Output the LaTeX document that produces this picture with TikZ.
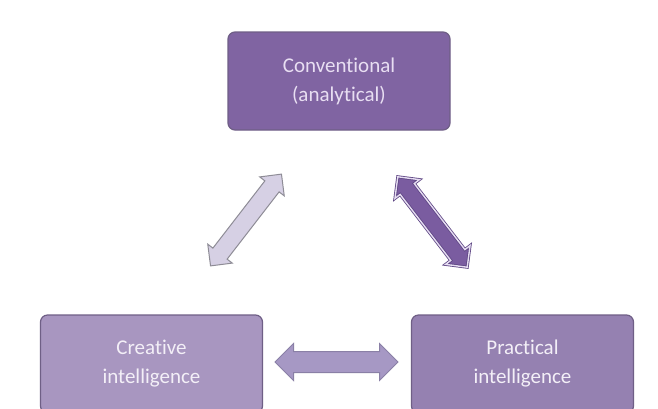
\documentclass[tikz,border=0pt]{standalone}
\usepackage{fontspec}
\setmainfont{Carlito}[Ligatures=NoCommon]
\usetikzlibrary{shapes.arrows}
\definecolor{topfill}{HTML}{8064A2}
\definecolor{rightfill}{HTML}{9581B1}
\definecolor{leftfill}{HTML}{A896C0}
\definecolor{boxedge}{HTML}{6F5F86}
\definecolor{textlav}{HTML}{E8DEF2}
\definecolor{textwhite}{HTML}{F3EFF7}
\definecolor{lightarrow}{HTML}{D6D0E4}
\definecolor{lightedge}{HTML}{8E8C96}
\definecolor{darkarrow}{HTML}{7A5CA0}
\definecolor{darkedge}{HTML}{5E4684}
\definecolor{stripe}{HTML}{E6DDF2}
\definecolor{midarrow}{HTML}{A698C4}
\definecolor{midedge}{HTML}{8A80A6}
\begin{document}
\begin{tikzpicture}[x=1pt,y=-1pt,
  box/.style={rectangle, rounded corners=7pt, draw=boxedge, line width=1.2pt,
    minimum width=222pt, minimum height=98pt, align=center,
    font=\fontsize{21}{29}\selectfont},
  darrow/.style={shape=double arrow, inner xsep=0pt, inner ysep=8.5pt, minimum width=30pt,
    double arrow head extend=6.5pt, line width=1pt},
]
\useasboundingbox (0,0) rectangle (658,408);
\fill[white] (0,0) rectangle (658,408);
\node[box, fill=topfill, text=textlav] (conv) at (339,81) {Conventional\\(analytical)};
\node[box, fill=leftfill, text=textwhite] (crea) at (151.5,364) {Creative\\intelligence};
\node[box, fill=rightfill, text=textwhite] (prac) at (522.5,364) {Practical\\intelligence};
\node[darrow, minimum height=116pt, rotate=52.3, fill=lightarrow, draw=lightedge] (a1) at (246,220) {};
\node[darrow, minimum height=114pt, rotate=-52.5, fill=darkarrow, draw=darkedge,
  double=stripe, double distance=1.4pt, line width=0.8pt] (a2) at (432.5,222) {};
\node[darrow, minimum height=123pt, inner ysep=10pt, minimum width=36pt, double arrow head extend=8pt,
  fill=midarrow, draw=midedge] (a3) at (336.5,362) {};
\end{tikzpicture}
\end{document}
